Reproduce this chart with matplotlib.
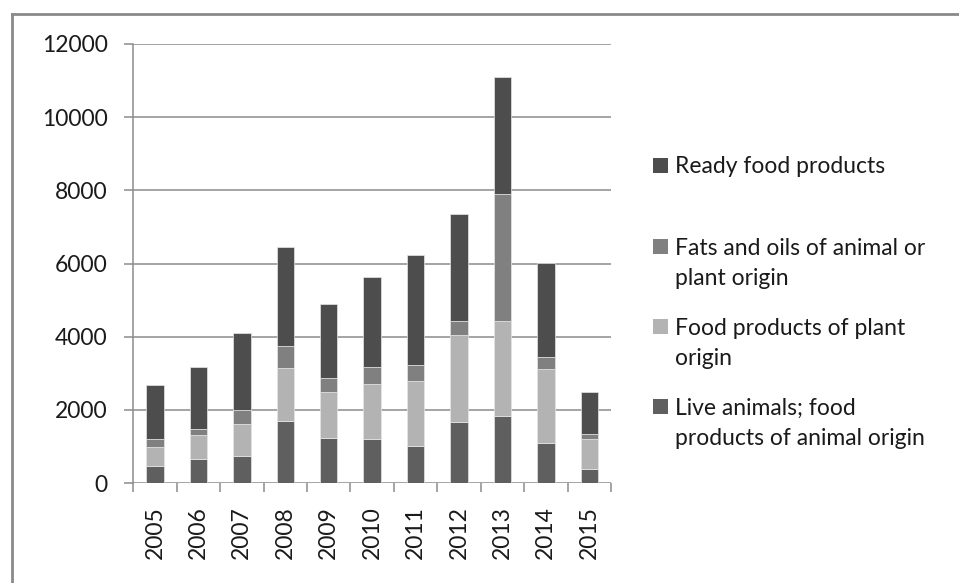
import matplotlib
matplotlib.use("Agg")
import numpy as np
import matplotlib.pyplot as plt
from matplotlib.patches import Rectangle
from matplotlib.lines import Line2D

years = ["2005", "2006", "2007", "2008", "2009", "2010",
         "2011", "2012", "2013", "2014", "2015"]
live_animals = [474, 646, 747, 1690, 1237, 1199, 1000, 1673, 1836, 1101, 373]
plant_food = [518, 673, 872, 1444, 1262, 1509, 1779, 2371, 2589, 2024, 826]
fats_oils = [207, 163, 381, 618, 381, 455, 455, 381, 3488, 330, 147]
ready_food = [1482, 1690, 2098, 2689, 2025, 2469, 3006, 2924, 3188, 2570, 1153]

series = [
    ("Live animals; food\nproducts of animal origin", live_animals, "#5f5f5f"),
    ("Food products of plant\norigin", plant_food, "#b3b3b3"),
    ("Fats and oils of animal or\nplant origin", fats_oils, "#808080"),
    ("Ready food products", ready_food, "#4d4d4d"),
]

plt.rcParams['font.family'] = ['Lato', 'DejaVu Sans']
W, H = 959, 583
fig = plt.figure(figsize=(W / 100, H / 100), dpi=100)
ax = fig.add_axes([133.3 / W, 1 - 483 / H, (611 - 133.3) / W, (483 - 44) / H])

x = np.arange(len(years))
bottom = np.zeros(len(years))
for label, vals, color in series:
    ax.bar(x, vals, width=0.4, bottom=bottom, color=color,
           edgecolor="#e6e6e6", linewidth=0.5, zorder=3)
    bottom += np.array(vals)

grid_c = "#8c8c8c"
ax.set_xlim(-0.5, len(years) - 0.5)
ax.set_ylim(0, 12000)
ax.set_yticks(np.arange(0, 12001, 2000))
ax.yaxis.grid(True, color=grid_c, linewidth=1.1, zorder=0)
for s in ["top", "right", "bottom"]:
    ax.spines[s].set_visible(False)
ax.spines["left"].set_color(grid_c)
ax.spines["left"].set_linewidth(1.1)
ax.tick_params(axis="y", length=6.5, width=1.1, color=grid_c,
               labelsize=16.5, pad=12, labelcolor="#1a1a1a")

ax.set_xticks(x)
ax.set_xticklabels(years, rotation=90)
ax.set_xticks(np.arange(-0.5, len(years)), minor=True)
ax.tick_params(axis="x", which="major", length=0, labelsize=16.5, pad=17,
               labelcolor="#1a1a1a")
ax.tick_params(axis="x", which="minor", length=6.5, width=1.1, color=grid_c)

# legend drawn by hand to follow the original layout
legend_rows = [
    (["Ready food products"], "#4d4d4d", 165),
    (["Fats and oils of animal or", "plant origin"], "#808080", 246.7),
    (["Food products of plant", "origin"], "#b3b3b3", 326.7),
    (["Live animals; food", "products of animal origin"], "#5f5f5f", 406.7),
]
for lines, color, ypix in legend_rows:
    fig.patches.append(Rectangle((653 / W, 1 - (ypix + 7.5) / H), 15 / W, 15 / H,
                                 transform=fig.transFigure, facecolor=color,
                                 edgecolor="none"))
    for i, line in enumerate(lines):
        fig.text(675 / W, 1 - (ypix + 30 * i + 8) / H, line, fontsize=16.5,
                 va="baseline", ha="left", color="#1a1a1a")

# outer chart border
border = "#8a8a8a"
fig.lines.append(Line2D([11.5 / W, 1], [1 - 14 / H, 1 - 14 / H],
                        transform=fig.transFigure, color=border, linewidth=2))
fig.lines.append(Line2D([11.5 / W, 11.5 / W], [1 - 14 / H, 0],
                        transform=fig.transFigure, color=border, linewidth=2))

fig.savefig("out.png", dpi=100)
